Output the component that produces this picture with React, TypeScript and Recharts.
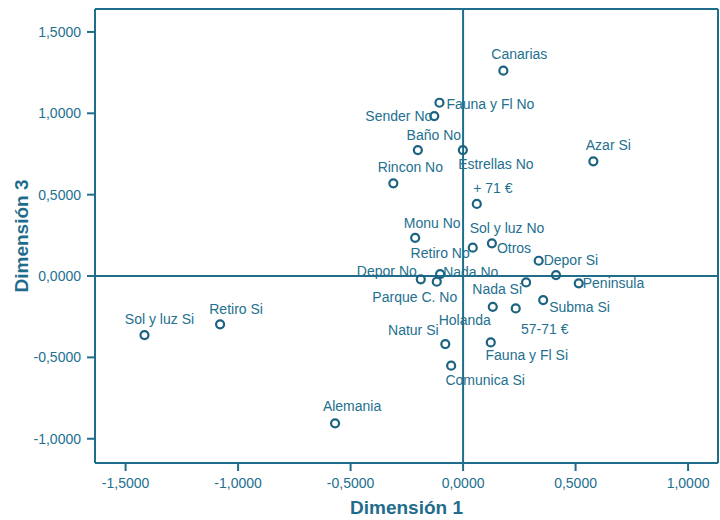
import {
  ScatterChart,
  Scatter,
  XAxis,
  YAxis,
  ReferenceLine,
  Label,
} from "recharts";

const categories = [
  "Canarias", "Fauna y Fl No", "Sender No", "Baño No", "Estrellas No", "Azar Si",
  "Rincon No", "+ 71 €", "Monu No", "Sol y luz No", "Retiro No", "Otros",
  "Depor Si", "Depor No", "Nada No", "Parque C. No", "Peninsula", "Nada Si",
  "Holanda", "57-71 €", "Subma Si", "Natur Si", "Fauna y Fl Si", "Comunica Si",
  "Sol y luz Si", "Retiro Si", "Alemania",
];
const dim1 = [
  0.179, -0.105, -0.128, -0.201, -0.001, 0.579,
  -0.31, 0.061, -0.213, 0.413, 0.043, 0.128,
  0.336, -0.188, -0.102, -0.117, 0.514, 0.28,
  0.132, 0.234, 0.356, -0.079, 0.123, -0.053,
  -1.416, -1.08, -0.569,
];
const dim3 = [
  1.262, 1.065, 0.983, 0.774, 0.774, 0.705,
  0.57, 0.443, 0.235, 0.006, 0.174, 0.201,
  0.094, -0.02, 0.012, -0.035, -0.045, -0.039,
  -0.189, -0.199, -0.148, -0.418, -0.408, -0.551,
  -0.363, -0.297, -0.905,
];
const xTicks = [-1.5, -1, -0.5, 0, 0.5, 1];
const yTicks = [-1, -0.5, 0, 0.5, 1, 1.5];
const xDomain = [-1.636, 1.133];
const yDomain = [-1.149, 1.641];

// label placement per point: [anchor, dx, dy]
const labelPlace: [string, number, number][] = [
  ["middle", 16, -12], ["start", 7, 6], ["end", -2, 5], ["middle", 16, -10], ["middle", 33, 19], ["middle", 15, -11],
  ["middle", 17, -11], ["middle", 16, -11], ["middle", 17, -10], ["middle", -49, -42], ["end", -3, 10], ["start", 5, 10],
  ["start", 5, 4], ["end", -4, -3], ["start", 3, 3], ["middle", -22, 20], ["start", 4, 5], ["end", -4, 12],
  ["middle", -28, 18], ["middle", 29, 26], ["start", 6, 12], ["middle", -32, -9], ["middle", 36, 18], ["middle", 34, 19],
  ["middle", 15, -11], ["middle", 16, -10], ["middle", 17, -12],
];

const data = categories.map((name, i) => ({ name, x: dim1[i], y: dim3[i], i }));

const LINE = "#1f6d8b";
const TEXT = "#23708f";
const FONT = "'Liberation Sans', Arial, sans-serif";
const fmt = (v: number) => (Math.abs(v) < 1e-9 ? 0 : v).toFixed(4).replace(".", ",");

const Point = (props: any) => {
  const { cx, cy, payload } = props;
  const [anchor, dx, dy] = labelPlace[payload.i];
  return (
    <g>
      <circle cx={cx} cy={cy} r={4} fill="none" stroke="#1b6380" strokeWidth={2.2} />
      <text x={cx + dx} y={cy + dy} textAnchor={anchor as any} fill={TEXT} fontSize={14} fontFamily={FONT}>
        {payload.name}
      </text>
    </g>
  );
};

export default function App() {
  return (
    <div style={{ position: "absolute", left: 0, top: 0, background: "#fff" }}>
      <ScatterChart width={720} height={520} margin={{ top: 9, right: 2, bottom: 17, left: 35 }}>
        <XAxis
          type="number"
          dataKey="x"
          domain={xDomain}
          ticks={xTicks}
          tickFormatter={fmt}
          height={40}
          stroke={LINE}
          axisLine={{ stroke: LINE, strokeWidth: 2 }}
          tickLine={{ stroke: LINE, strokeWidth: 2 }}
          tickSize={8}
          tickMargin={7}
          tick={{ fill: TEXT, fontSize: 14, fontFamily: FONT }}
          allowDataOverflow
        >
          <Label
            content={(p: any) => {
              const vb = p.viewBox;
              return (
                <text x={vb.x + vb.width / 2} y={vb.y + 51} textAnchor="middle" fill={LINE} fontSize={19} fontWeight="bold" fontFamily={FONT}>
                  Dimensión 1
                </text>
              );
            }}
          />
        </XAxis>
        <YAxis
          type="number"
          dataKey="y"
          domain={yDomain}
          ticks={yTicks}
          tickFormatter={fmt}
          width={60}
          stroke={LINE}
          axisLine={{ stroke: LINE, strokeWidth: 2 }}
          tickLine={{ stroke: LINE, strokeWidth: 2 }}
          tickSize={8}
          tickMargin={6}
          tick={{ fill: TEXT, fontSize: 14, fontFamily: FONT }}
          allowDataOverflow
        >
          <Label
            content={(p: any) => {
              const vb = p.viewBox;
              const cx = 21;
              const cy = vb.y + vb.height / 2;
              return (
                <text x={cx} y={cy} transform={`rotate(-90 ${cx} ${cy})`} textAnchor="middle" dominantBaseline="central" fill={LINE} fontSize={19} fontWeight="bold" fontFamily={FONT}>
                  Dimensión 3
                </text>
              );
            }}
          />
        </YAxis>
        {/* plot frame: top and right edges */}
        <ReferenceLine y={yDomain[1]} stroke={LINE} strokeWidth={2} ifOverflow="visible" />
        <ReferenceLine x={xDomain[1]} stroke={LINE} strokeWidth={2} ifOverflow="visible" />
        <ReferenceLine x={0} stroke={LINE} strokeWidth={2} />
        <ReferenceLine y={0} stroke={LINE} strokeWidth={2} />
        <Scatter data={data} shape={Point} isAnimationActive={false} />
      </ScatterChart>
    </div>
  );
}
